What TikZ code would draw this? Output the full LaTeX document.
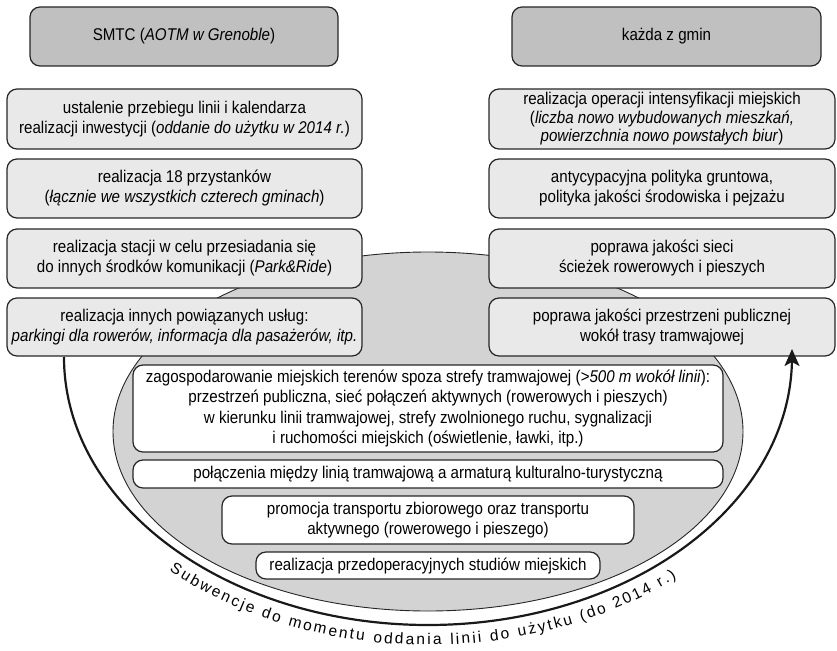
\documentclass[tikz,border=0pt]{standalone}
\usepackage{fontspec}
\setmainfont{Liberation Sans}[FakeStretch=0.89]
\newfontfamily\arcfont{Liberation Sans}
\usetikzlibrary{arrows.meta,decorations.text}
\definecolor{topgray}{RGB}{192,192,192}
\definecolor{boxgray}{RGB}{233,233,233}
\definecolor{ellgray}{RGB}{211,211,211}
\definecolor{boxline}{RGB}{38,38,38}
\newcommand\boxfont{\fontsize{17}{20}\selectfont}
\tikzset{
  box/.style={draw=boxline, line width=1.2pt, rounded corners=10pt, align=center, inner sep=0pt, font=\boxfont},
  topbox/.style={box, fill=topgray, minimum width=308pt, minimum height=59pt},
  lbox/.style={box, fill=boxgray, minimum width=355pt, minimum height=59pt},
  rbox/.style={box, fill=boxgray, minimum width=346pt, minimum height=59pt},
  wbox/.style={box, fill=white},
  arcline/.style={draw=black!90, line width=2.2pt},
}
\begin{document}
\begin{tikzpicture}[x=1pt,y=1pt]
\useasboundingbox (0,0) rectangle (837,-650);
% background ellipse
\path[fill=ellgray, draw=boxline, line width=0.9pt] (428,-431.5) ellipse [x radius=315, y radius=179.5];
% top boxes
\node[topbox] (smtc) at (184,-36.5) {SMTC (\textit{AOTM w Grenoble})};
\node[topbox, minimum width=309pt] (gminy) at (666.5,-36.5) {każda z gmin};
% left column
\node[lbox, minimum height=60pt] (l1) at (184.5,-119) {ustalenie przebiegu linii i kalendarza\\realizacji inwestycji (\textit{oddanie do użytku w 2014 r.})};
\node[lbox] (l2) at (184.5,-188.5) {realizacja 18 przystanków\\(\textit{łącznie we wszystkich czterech gminach})};
\node[lbox] (l3) at (184.5,-258.5) {realizacja stacji w celu przesiadania się\\do innych środków komunikacji (\textit{Park\&Ride})};
\node[lbox, minimum height=58pt] (l4) at (184.5,-327) {realizacja innych powiązanych usług:\\\textit{parkingi dla rowerów, informacja dla pasażerów, itp.}};
% right column
\node[rbox, minimum height=60pt, font=\fontsize{17}{18.5}\selectfont] (r1) at (662,-119) {realizacja operacji intensyfikacji miejskich\\(\textit{liczba nowo wybudowanych mieszkań,}\\\textit{powierzchnia nowo powstałych biur})};
\node[rbox] (r2) at (662,-188.5) {antycypacyjna polityka gruntowa,\\polityka jakości środowiska i pejzażu};
\node[rbox] (r3) at (662,-258.5) {poprawa jakości sieci\\ścieżek rowerowych i pieszych};
\node[rbox, minimum height=58pt] (r4) at (662,-327) {poprawa jakości przestrzeni publicznej\\wokół trasy tramwajowej};
% inner boxes
\node[wbox, minimum width=590pt, minimum height=87pt, font=\fontsize{17}{20.5}\selectfont] (i1) at (428,-408.5) {zagospodarowanie miejskich terenów spoza strefy tramwajowej (\textit{>500 m wokół linii}):\\przestrzeń publiczna, sieć połączeń aktywnych (rowerowych i pieszych)\\w kierunku linii tramwajowej, strefy zwolnionego ruchu, sygnalizacji\\i ruchomości miejskich (oświetlenie, ławki, itp.)};
\node[wbox, minimum width=590pt, minimum height=28pt] (i2) at (428,-474) {połączenia między linią tramwajową a armaturą kulturalno-turystyczną};
\node[wbox, minimum width=412pt, minimum height=48pt] (i3) at (428,-520) {promocja transportu zbiorowego oraz transportu\\aktywnego (rowerowego i pieszego)};
\node[wbox, minimum width=344pt, minimum height=27pt] (i4) at (428,-565.5) {realizacja przedoperacyjnych studiów miejskich};
% arc connector
\coordinate (arcL) at (l4.south -| 64,0);
\coordinate (arcR) at (792,-349);
\draw[arcline, -{Stealth[length=17pt,width=15pt,inset=4pt]}] (64,-357) arc[start angle=180,end angle=360,x radius=364,y radius=268] -- (arcR);
\draw[arcline] (arcL) -- (64,-357);
% text along arc
\path[decorate, decoration={text along path, text align=fit to path,
  text={|\arcfont\fontsize{15.5}{17}\selectfont|Subwencje do momentu oddania linii do użytku (do 2014 r.)}}]
  ([shift={(227.9:386 and 288)}]428,-357) arc[start angle=227.9,end angle=310,x radius=386,y radius=288];
\end{tikzpicture}
\end{document}
